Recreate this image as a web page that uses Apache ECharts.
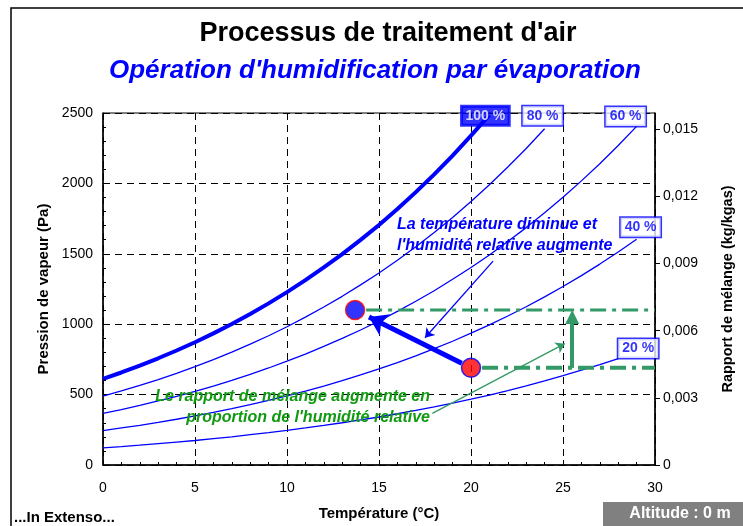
<!DOCTYPE html>
<html>
<head>
<meta charset="UTF-8">
<title>Processus de traitement d'air</title>
<style>
    html, body { margin: 0; padding: 0; background: #fff; }
    #chart { width: 743px; height: 526px; }
</style>
</head>
<body>
<div id="chart"></div>
<script src="https://cdn.jsdelivr.net/npm/echarts@6/dist/echarts.min.js"></script>
<script>
// températures (°C) des points des courbes
const temperature = [0, 1, 2, 3, 4, 5, 6, 7, 8, 9, 10, 11, 12, 13, 14, 15, 16, 17, 18, 19, 20, 21, 22, 23, 24, 25, 26, 27, 28, 29];

// pression de vapeur (Pa) lue sur chaque courbe d'humidité relative
const rh100 = [611, 657, 706, 758, 813, 872, 935, 1002, 1073, 1148, 1228, 1313, 1403, 1498, 1599, 1705, 1818, 1938, 2064, 2198, 2339, 2487];
const rh80 = [489, 526, 565, 606, 650, 698, 748, 802, 858, 918, 982, 1050, 1122, 1198, 1279, 1364, 1454, 1550, 1651, 1758, 1871, 1990, 2116, 2248, 2388];
const rh60 = [367, 394, 424, 455, 488, 523, 561, 601, 644, 689, 737, 788, 842, 899, 959, 1023, 1091, 1163, 1238, 1319, 1403, 1492, 1587, 1686, 1791, 1901, 2018, 2140, 2269, 2405];
const rh40 = [244, 263, 282, 303, 325, 349, 374, 401, 429, 459, 491, 525, 561, 599, 640, 682, 727, 775, 826, 879, 936, 995, 1058, 1124, 1194, 1268, 1345, 1427, 1513, 1603];
const rh20 = [122, 131, 141, 152, 163, 174, 187, 200, 215, 230, 246, 263, 281, 300, 320, 341, 364, 388, 413, 440, 468, 497, 529, 562, 597, 634, 673, 713, 756];

const curveNames = ['100 %', '80 %', '60 %', '40 %', '20 %'];
const curves = [rh100, rh80, rh60, rh40, rh20];

// état initial (rouge) et état final (bleu)
const pointStart = [20, 690];
const pointEnd = [13.7, 1100];

// flèches des commentaires [x1, y1, x2, y2]
const noteArrowBlue = [21.2, 1448, 17.5, 904];
const noteArrowGreen = [17.9, 367, 25.1, 862];
const verticalArrowX = 25.5;

// graduations
const xTicks = { min: 0, max: 30, interval: 5 };
const yTicks = { min: 0, max: 2500, interval: 500 };
const wTicks = { min: 0, max: 0.01573, interval: 0.003 };

const BLUE = '#0000ff';
const GREEN = '#339966';
const TEXT_GREEN = '#119911';
const FONT = '"Liberation Sans", Arial, sans-serif';

const chart = echarts.init(document.getElementById('chart'));

function toPairs(arr) {
    return arr.map((v, i) => [temperature[i], v]);
}

// position des étiquettes par rapport au dernier point de chaque courbe
const labelOffsets = [[-4, 1], [-2, -13], [-11, -10], [4, -12], [20, -10]];

const curveSeries = curves.map((arr, k) => ({
    name: curveNames[k],
    type: 'line',
    data: toPairs(arr),
    showSymbol: false,
    symbol: 'none',
    silent: true,
    z: 3,
    lineStyle: { color: BLUE, width: k === 0 ? 4 : 1.3 }
}));

const labelSeries = {
    type: 'scatter',
    symbolSize: 0,
    silent: true,
    z: 6,
    data: curves.map((arr, k) => ({
        value: [temperature[arr.length - 1], arr[arr.length - 1]],
        label: {
            show: true,
            position: 'inside',
            offset: labelOffsets[k],
            formatter: curveNames[k],
            fontFamily: FONT,
            fontSize: 14,
            fontWeight: 'bold',
            color: k === 0 ? '#fff' : BLUE,
            backgroundColor: k === 0 ? BLUE : '#fff',
            borderColor: BLUE,
            borderWidth: 1.5,
            padding: [3, 4, 2, 4]
        }
    }))
};

// lignes horizontales mixtes vertes (rapport de mélange)
const greenLines = [
    { from: pointEnd, width: 3 },
    { from: pointStart, width: 4 }
].map(g => ({
    type: 'line',
    data: [[g.from[0] + 0.6, g.from[1]], [xTicks.max, g.from[1]]],
    symbol: 'none',
    silent: true,
    z: 4,
    lineStyle: { color: GREEN, width: g.width, type: [16, 6, 4, 6] }
}));

function lerp(a, b, t) {
    return [a[0] + (b[0] - a[0]) * t, a[1] + (b[1] - a[1]) * t];
}

const arrowSeries = [
    {
        // flèche de l'évolution
        type: 'lines',
        coordinateSystem: 'cartesian2d',
        symbol: ['none', 'arrow'],
        symbolSize: 18,
        z: 5,
        silent: true,
        lineStyle: { color: BLUE, width: 5, opacity: 1 },
        data: [{ coords: [lerp(pointStart, pointEnd, 0.08), lerp(pointStart, pointEnd, 0.88)] }]
    },
    {
        // flèche verticale
        type: 'lines',
        coordinateSystem: 'cartesian2d',
        symbol: ['none', 'triangle'],
        symbolSize: 14,
        z: 5,
        silent: true,
        lineStyle: { color: GREEN, width: 4, opacity: 1 },
        data: [{ coords: [[verticalArrowX, pointStart[1]], [verticalArrowX, pointEnd[1] - 48]] }]
    },
    {
        type: 'lines',
        coordinateSystem: 'cartesian2d',
        symbol: ['none', 'arrow'],
        symbolSize: 9,
        z: 5,
        silent: true,
        lineStyle: { color: BLUE, width: 1.3, opacity: 1 },
        data: [{ coords: [noteArrowBlue.slice(0, 2), noteArrowBlue.slice(2)] }]
    },
    {
        type: 'lines',
        coordinateSystem: 'cartesian2d',
        symbol: ['none', 'arrow'],
        symbolSize: 9,
        z: 5,
        silent: true,
        lineStyle: { color: GREEN, width: 1.3, opacity: 1 },
        data: [{ coords: [noteArrowGreen.slice(0, 2), noteArrowGreen.slice(2)] }]
    }
];

const pointSeries = {
    type: 'scatter',
    symbolSize: 19,
    z: 7,
    silent: true,
    data: [
        { value: pointEnd, itemStyle: { color: BLUE, borderColor: '#ff0000', borderWidth: 1.5 } },
        { value: pointStart, itemStyle: { color: '#ff0000', borderColor: BLUE, borderWidth: 1.5 } }
    ]
};

const axisText = { color: '#000', fontFamily: FONT, fontSize: 14 };
const nameText = { color: '#000', fontFamily: FONT, fontSize: 15, fontWeight: 'bold' };
const gridDash = { show: true, lineStyle: { color: '#000', type: [7, 5], width: 1 } };

const option = {
    animation: false,
    backgroundColor: '#fff',
    grid: { left: 103, right: 88, top: 113, bottom: 58, show: true, borderColor: '#000', borderWidth: 1 },
    xAxis: {
        type: 'value',
        min: xTicks.min, max: xTicks.max, interval: xTicks.interval,
        name: 'Température (°C)',
        nameLocation: 'middle',
        nameGap: 41,
        nameTextStyle: nameText,
        axisLine: { lineStyle: { color: '#000', width: 1.5 } },
        axisTick: { inside: true, length: 5, lineStyle: { color: '#000' } },
        minorTick: { show: true, splitNumber: 5, length: 3, lineStyle: { color: '#000' } },
        axisLabel: Object.assign({ margin: 16 }, axisText),
        splitLine: gridDash
    },
    yAxis: [
        {
            type: 'value',
            min: yTicks.min, max: yTicks.max, interval: yTicks.interval,
            name: 'Pression de vapeur (Pa)',
            nameLocation: 'middle',
            nameGap: 50,
            nameRotate: 90,
            nameTextStyle: nameText,
            axisLine: { show: true, lineStyle: { color: '#000', width: 1.5 } },
            axisTick: { show: true, inside: true, length: 5, lineStyle: { color: '#000' } },
            minorTick: { show: true, splitNumber: 5, length: 3, lineStyle: { color: '#000' } },
            axisLabel: Object.assign({ margin: 10, formatter: v => String(v) }, axisText),
            splitLine: gridDash
        },
        {
            type: 'value',
            position: 'right',
            min: wTicks.min, max: wTicks.max, interval: wTicks.interval,
            name: 'Rapport de mélange (kg/kgas)',
            nameLocation: 'middle',
            nameGap: 65,
            nameRotate: 90,
            nameTextStyle: Object.assign({}, nameText, { fontSize: 14.5 }),
            axisLine: { show: true, lineStyle: { color: '#000', width: 1.5 } },
            axisTick: { show: true, length: 5, lineStyle: { color: '#000' } },
            axisLabel: Object.assign({
                margin: 8,
                showMaxLabel: false,
                formatter: function (v) {
                    if (v === 0) return '0';
                    const n = v / wTicks.interval;
                    if (Math.abs(n - Math.round(n)) > 1e-6) return '';
                    return v.toFixed(3).replace('.', ',');
                }
            }, axisText),
            splitLine: { show: false }
        }
    ],
    graphic: [
        { type: 'rect', shape: { x: 11, y: 8, width: 800, height: 600 }, style: { fill: 'none', stroke: '#000', lineWidth: 1.5 }, z: 0 },
        { type: 'text', x: 388, y: 34, style: { text: "Processus de traitement d'air", font: 'bold 27px ' + FONT, fill: '#000', textAlign: 'center', textVerticalAlign: 'middle' } },
        { type: 'text', x: 375, y: 71, style: { text: "Opération d'humidification par évaporation", font: 'italic bold 26px ' + FONT, fill: BLUE, textAlign: 'center', textVerticalAlign: 'middle' } },
        { type: 'text', x: 397, y: 225, z: 10, style: { text: 'La température diminue et', font: 'italic bold 16px ' + FONT, fill: BLUE, textAlign: 'left', textVerticalAlign: 'middle' } },
        { type: 'text', x: 397, y: 246, z: 10, style: { text: "l'humidité relative augmente", font: 'italic bold 16px ' + FONT, fill: BLUE, textAlign: 'left', textVerticalAlign: 'middle' } },
        { type: 'text', x: 430, y: 397, z: 10, style: { text: 'Le rapport de mélange augmente en', font: 'italic bold 16px ' + FONT, fill: TEXT_GREEN, textAlign: 'right', textVerticalAlign: 'middle' } },
        { type: 'text', x: 430, y: 418, z: 10, style: { text: "proportion de l'humidité relative", font: 'italic bold 16px ' + FONT, fill: TEXT_GREEN, textAlign: 'right', textVerticalAlign: 'middle' } },
        { type: 'text', x: 14, y: 518, style: { text: '...In Extenso...', font: 'bold 15px ' + FONT, fill: '#000', textAlign: 'left', textVerticalAlign: 'middle' } },
        { type: 'rect', shape: { x: 603, y: 502, width: 145, height: 24 }, style: { fill: '#808080' } },
        { type: 'text', x: 680, y: 514, style: { text: 'Altitude : 0 m', font: 'bold 16px ' + FONT, fill: '#fff', textAlign: 'center', textVerticalAlign: 'middle' } }
    ],
    series: curveSeries.concat(greenLines, arrowSeries, [labelSeries, pointSeries])
};

chart.setOption(option);
</script>
</body>
</html>
